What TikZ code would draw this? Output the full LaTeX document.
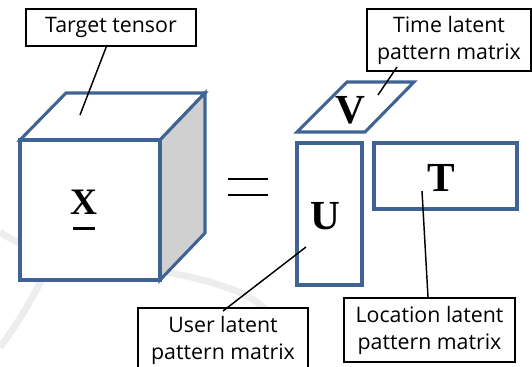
\documentclass[tikz,border=0pt]{standalone}
\usepackage{fontspec}
\setmainfont{Open Sans}
\newfontfamily\letterfont{Liberation Serif}
\definecolor{frameblue}{HTML}{3F6494}
\definecolor{sidegray}{HTML}{D0D0D0}
\begin{document}
\begin{tikzpicture}[x=0.75pt,y=-0.75pt,
  labelbox/.style={draw=black,line width=1.5pt,fill=white,align=center,
    font=\fontsize{16}{20.25}\selectfont,inner sep=0pt},
  blueshape/.style={draw=frameblue,line width=2.3pt,line join=miter},
  leader/.style={draw=black,line width=1.1pt},
  letter/.style={font=\letterfont\bfseries\fontsize{31}{31}\selectfont,inner sep=0pt},
  watermark/.style={draw=black!7,line width=5pt}]
\clip (0,0) rectangle (532,367);
\fill[white] (0,0) rectangle (532,367);

% faint background arcs
\draw[watermark] (0,232) .. controls (40,262) and (140,262) .. (210,282)
  .. controls (250,295) .. (290,330);
\draw[watermark] (0,347) .. controls (25,315) and (45,275) .. (60,240);

% the tensor drawn as a cube
\path[blueshape,fill=white] (20,140) -- (66,93) -- (205,93) -- (160,140) -- cycle;
\path[blueshape,fill=sidegray] (160,140) -- (205,93) -- (205,233) -- (160,280) -- cycle;
\path[blueshape,fill=white] (20,140) rectangle (160,280);
\node[letter,font=\letterfont\bfseries\fontsize{28}{28}\selectfont] (x) at (84,202) {X};
\draw[line width=2.2pt] (73,228.5) -- (95,228.5);

% equals sign
\draw[line width=1.6pt] (228,179) -- (268,179);
\draw[line width=1.6pt] (228,195) -- (268,195);

% factor matrices
\path[blueshape,fill=white] (347,82) -- (414,82) -- (365,132) -- (297,132) -- cycle;
\node[letter] (v) at (350,110) {V};
\node[blueshape,minimum width=65*0.75pt,minimum height=142*0.75pt,inner sep=0pt] (u) at (329.5,214) {};
\node[letter] at (325,216) (ulab) {U};
\node[blueshape,minimum width=143*0.75pt,minimum height=66*0.75pt,inner sep=0pt] (t) at (445.5,176) {};
\node[letter] at (441,178) (tlab) {T};

% label boxes
\node[labelbox,minimum width=170*0.75pt,minimum height=37*0.75pt] (target) at (111,27.5) {Target tensor};
\node[labelbox,minimum width=164*0.75pt,minimum height=62*0.75pt] (time) at (449,40) {Time latent\\pattern matrix};
\node[labelbox,minimum width=171*0.75pt,minimum height=64*0.75pt] (loc) at (429.5,330) {Location latent\\pattern matrix};
\node[labelbox,minimum width=170*0.75pt,minimum height=64*0.75pt] (user) at (223,340) {User latent\\pattern matrix};

% leader lines
\coordinate (targetend) at (80,115);
\coordinate (timeend) at (378,95);
\coordinate (userend) at (306,247);
\coordinate (locend) at (422,191);
\draw[leader] (target.south -| 107,0) ++(0,-2) -- (targetend);
\draw[leader] (time.south -| 397,0) ++(0,-5) -- (timeend);
\draw[leader] (user.north -| 223,0) ++(0,4) -- (userend);
\draw[leader] (loc.north -| 428,0) -- (locend);
\end{tikzpicture}
\end{document}
